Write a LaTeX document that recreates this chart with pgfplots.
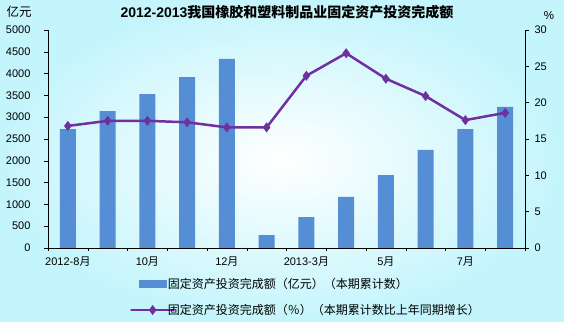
\documentclass[border=0pt]{standalone}
\usepackage{pgfplots}
\pgfplotsset{compat=1.18}
\usepackage{fontspec}
\setmainfont{Liberation Sans}
\newfontfamily\cjk{Noto Sans CJK SC}
\definecolor{barblue}{RGB}{85,142,213}
\definecolor{linepurple}{RGB}{112,48,160}
\definecolor{bgcyan}{RGB}{196,245,252}
\pgfplotsset{mylinelegend/.style={legend image code/.code={\draw[mark repeat=2,mark phase=2,##1] plot coordinates {(0pt,0pt) (14pt,0pt) (28pt,0pt)};}}}
\begin{document}
\begin{tikzpicture}[x=1pt,y=1pt]
\path[use as bounding box, inner color=white, outer color=bgcyan] (0,0) rectangle (564,321);
\begin{axis}[
  at={(48pt,73pt)}, anchor=south west,
  width=477pt, height=218pt, scale only axis,
  xmin=-0.5, xmax=11.5, ymin=0, ymax=5000,
  axis y line*=left, axis x line*=bottom,
  ytick={0,500,...,5000},
  xtick={0,2,4,6,8,10},
  xticklabels={{2012-8{\cjk 月}},{10{\cjk 月}},{12{\cjk 月}},{2013-3{\cjk 月}},{5{\cjk 月}},{7{\cjk 月}}},
  minor xtick={-0.5,0.5,...,11.5},
  major x tick style={draw=none},
  minor tick length=3pt, major tick length=4pt,
  tick style={black, thin},
  ytick align=outside, minor x tick style={black},
  xtick align=outside,
  axis line style={black, thin},
  tick label style={font=\fontsize{11}{12}\selectfont},
  /pgf/number format/assume math mode=true,
  /pgf/number format/1000 sep={},
  yticklabel style={xshift=-10pt},
  xticklabel style={yshift=-1pt},
  ybar, bar width=16pt,
  legend style={at={(0.164,-0.12)}, anchor=north west, draw=none, fill=none,
    font=\cjk\fontsize{12}{13}\selectfont, row sep=10pt, legend cell align=left,
    /tikz/every odd column/.append style={column sep=-10pt}},
  clip=false,
]
\addplot[fill=barblue, draw=none,
  legend image code/.code={\fill[barblue] (0pt,-4pt) rectangle (28pt,4pt);}]
  coordinates {(0,2729) (1,3142) (2,3532) (3,3922) (4,4335) (5,298) (6,711) (7,1170) (8,1674) (9,2248) (10,2729) (11,3234)};
\addlegendentry{固定资产投资完成额（亿元）（本期累计数）}
\addlegendimage{linepurple, line width=2.5pt, mark=diamond*, mark size=3pt, mark options={solid}, mylinelegend}
\addlegendentry{固定资产投资完成额（％）（本期累计数比上年同期增长）}
\end{axis}
\begin{axis}[
  at={(48pt,73pt)}, anchor=south west,
  width=477pt, height=218pt, scale only axis,
  xmin=-0.5, xmax=11.5, ymin=0, ymax=30,
  axis y line*=right, axis x line=none,
  ytick={0,5,...,30},
  tick style={black, thin}, ytick align=outside, major tick length=4pt,
  axis line style={black, thin},
  tick label style={font=\fontsize{11}{12}\selectfont},
  /pgf/number format/assume math mode=true,
  yticklabel style={xshift=2pt},
]
\addplot[linepurple, line width=2.5pt, mark=diamond*, mark size=3pt]
  coordinates {(0,16.8) (1,17.5) (2,17.5) (3,17.3) (4,16.6) (5,16.6) (6,23.7) (7,26.8) (8,23.3) (9,20.9) (10,17.6) (11,18.6)};
\end{axis}
\node[font=\bfseries\fontsize{14}{16}\selectfont] at (287,309) {2012-2013{\cjk 我国橡胶和塑料制品业固定资产投资完成额}};
\node[font=\cjk\fontsize{12.5}{14}\selectfont] at (19,309) {亿元};
\node[font=\fontsize{11.5}{13}\selectfont] at (549,305) {\%};
\end{tikzpicture}
\end{document}
